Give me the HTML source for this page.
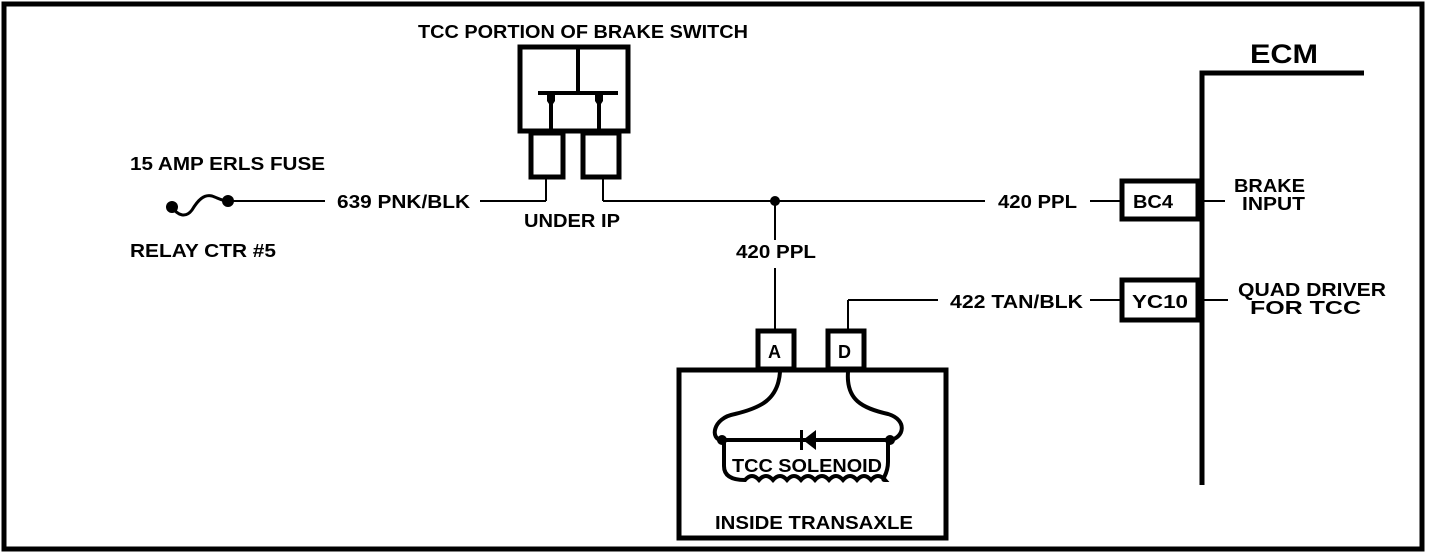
<!DOCTYPE html>
<html><head><style>
html,body{margin:0;padding:0;background:#fff}
svg{display:block}
text{font-family:"Liberation Sans",sans-serif;font-weight:bold;fill:#000}
</style></head><body>
<svg width="1456" height="556" viewBox="0 0 1456 556">
<rect x="4" y="4" width="1418" height="545" fill="none" stroke="#000" stroke-width="5"/>
<g font-size="18" lengthAdjust="spacingAndGlyphs">
<text x="418" y="38" textLength="330" lengthAdjust="spacingAndGlyphs">TCC PORTION OF BRAKE SWITCH</text>
<text x="130" y="170" textLength="195" lengthAdjust="spacingAndGlyphs">15 AMP ERLS  FUSE</text>
<text x="130" y="257" textLength="146" lengthAdjust="spacingAndGlyphs">RELAY CTR #5</text>
<text x="337" y="208" textLength="133" lengthAdjust="spacingAndGlyphs">639 PNK/BLK</text>
<text x="524" y="227" textLength="96" lengthAdjust="spacingAndGlyphs">UNDER IP</text>
<text x="736" y="258" textLength="80" lengthAdjust="spacingAndGlyphs">420 PPL</text>
<text x="998" y="208" textLength="79" lengthAdjust="spacingAndGlyphs">420 PPL</text>
<text x="950" y="308" textLength="133" lengthAdjust="spacingAndGlyphs">422 TAN/BLK</text>
<text x="1234" y="192" textLength="71" lengthAdjust="spacingAndGlyphs">BRAKE</text>
<text x="1242" y="210" textLength="63" lengthAdjust="spacingAndGlyphs">INPUT</text>
<text x="1238" y="296" textLength="148" lengthAdjust="spacingAndGlyphs">QUAD DRIVER</text>
<text x="1250" y="314" textLength="111" lengthAdjust="spacingAndGlyphs">FOR TCC</text>
<text x="715" y="529" textLength="198" lengthAdjust="spacingAndGlyphs">INSIDE TRANSAXLE</text>
<text x="732" y="472" textLength="150" lengthAdjust="spacingAndGlyphs">TCC SOLENOID</text>
<text x="1133" y="208" textLength="40" lengthAdjust="spacingAndGlyphs">BC4</text>
<text x="1132" y="308" textLength="56" lengthAdjust="spacingAndGlyphs">YC10</text>
<text x="768" y="358">A</text>
<text x="838" y="358">D</text>
</g>
<text x="1250" y="63" font-size="27" textLength="68" lengthAdjust="spacingAndGlyphs">ECM</text>
<g fill="none" stroke="#000">
<path d="M172,207 C178,216 186,218 192,210 C198,200 204,194 212,196 C218,198 222,201 228,201" stroke-width="3"/>
<line x1="228" y1="201" x2="325" y2="201" stroke-width="2"/>
<line x1="480" y1="201" x2="546" y2="201" stroke-width="2"/>
<line x1="546" y1="201" x2="546" y2="178" stroke-width="2"/>
<line x1="603" y1="178" x2="603" y2="201" stroke-width="2"/>
<line x1="603" y1="201" x2="985" y2="201" stroke-width="2"/>
<line x1="1090" y1="201" x2="1120" y2="201" stroke-width="2"/>
<line x1="1090" y1="300" x2="1120" y2="300" stroke-width="2"/>
<line x1="848" y1="300" x2="938" y2="300" stroke-width="2"/>
<line x1="848" y1="300" x2="848" y2="330" stroke-width="2"/>
<line x1="775" y1="201" x2="775" y2="240" stroke-width="2"/>
<line x1="775" y1="268" x2="775" y2="330" stroke-width="2"/>
<rect x="520" y="47" width="108" height="84" stroke-width="5"/>
<line x1="578" y1="47" x2="578" y2="93" stroke-width="4"/>
<line x1="538" y1="93" x2="618" y2="93" stroke-width="4"/>
<line x1="551" y1="100" x2="551" y2="131" stroke-width="4"/>
<line x1="599" y1="100" x2="599" y2="131" stroke-width="4"/>
<rect x="531" y="133" width="32" height="44" stroke-width="5"/>
<rect x="583" y="133" width="36" height="44" stroke-width="5"/>
<polyline points="1364,73 1202,73 1202,485" stroke-width="5"/>
<rect x="1122" y="181" width="76" height="38" stroke-width="5"/>
<rect x="1122" y="280" width="76" height="40" stroke-width="5"/>
<line x1="1202" y1="201" x2="1225" y2="201" stroke-width="2"/>
<line x1="1202" y1="300" x2="1228" y2="300" stroke-width="2"/>
<rect x="679" y="370" width="267" height="168" stroke-width="5"/>
<rect x="758" y="331" width="36" height="38" stroke-width="5"/>
<rect x="828" y="331" width="36" height="38" stroke-width="5"/>
<path d="M780,372 C778,400 760,408 735,414 C712,418 710,440 722,440" stroke-width="4"/>
<path d="M848,372 C846,400 862,408 888,414 C908,420 904,438 890,440" stroke-width="4"/>
<line x1="722" y1="440" x2="890" y2="440" stroke-width="4"/>
<path d="M724,442 L724,466 C724,480 740,480 745,480 q7,-8 14,0 q7,-8 14,0 q7,-8 14,0 q7,-8 14,0 q7,-8 14,0 q7,-8 14,0 q7,-8 14,0 q7,-8 14,0 q7,-8 14,0 q7,-8 14,0 C880,480 888,476 888,462 L888,442" stroke-width="4"/>
</g>
<g fill="#000">
<circle cx="172" cy="207" r="6"/><circle cx="228" cy="201" r="6"/>
<circle cx="775" cy="201" r="5"/>
<circle cx="722" cy="440" r="5"/><circle cx="890" cy="440" r="5"/>
<path d="M547,93 h8 v8 l-4,6 -4,-6z"/><path d="M595,93 h8 v8 l-4,6 -4,-6z"/>
<polygon points="803,440 816,430 816,450"/>
<rect x="800" y="430" width="3" height="20"/>
</g>
</svg>
</body></html>
